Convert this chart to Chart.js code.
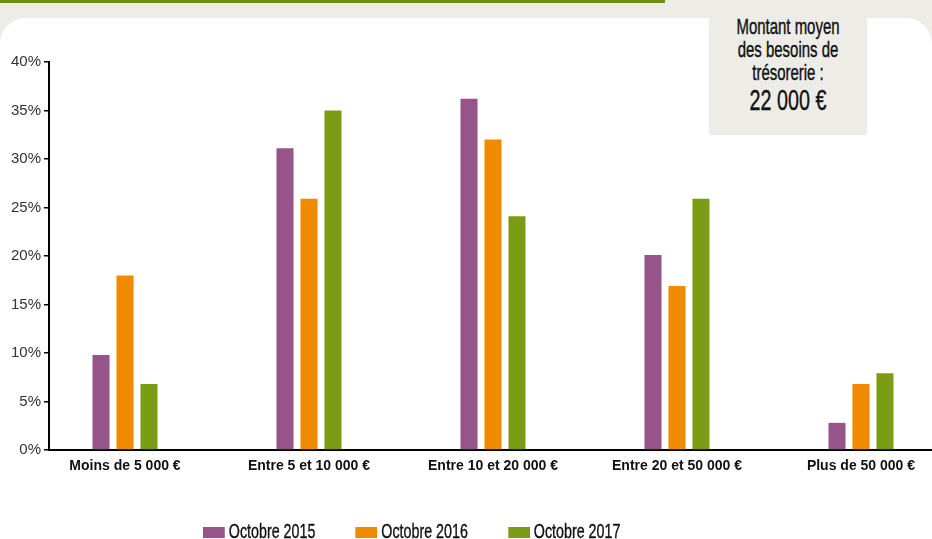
<!DOCTYPE html>
<html>
<head>
<meta charset="utf-8">
<script src="https://cdn.jsdelivr.net/npm/chart.js@4"></script>
<style>
  body { margin: 0; background: #edece7; font-family: 'Liberation Sans', Arial, sans-serif; }
  #page { position: relative; width: 932px; height: 539px; overflow: hidden; }
  #topline { position: absolute; left: 0; top: 0; width: 665px; height: 3px; background: #6f8c1f; }
  #panel { position: absolute; left: 0; right: 0; top: 18px; bottom: 0; background: #fff; border-radius: 26px 26px 0 0; }
  #note { position: absolute; left: 709px; top: 0; width: 158px; height: 135px; background: #edece7; }
  #note div { position: absolute; left: -40px; right: -40px; top: 15px; text-align: center; color: #111;
              font-size: 22px; line-height: 23px; transform: scaleX(0.68); -webkit-text-stroke: 0.4px #111; }
  #note b { display: block; font-size: 29px; font-weight: normal; line-height: 33px; }
  #chart-wrap { position: absolute; left: 0; top: 0; width: 932px; height: 539px; }
  #legend { position: absolute; left: 203px; top: 519px; display: flex; gap: 59px; font-size: 21px; line-height: 24px;
            color: #111; white-space: nowrap; transform: scaleX(0.68); transform-origin: 0 0; -webkit-text-stroke: 0.4px #111; }
  #legend span.item { display: flex; align-items: flex-end; }
  #legend i { display: inline-block; width: 32px; height: 11px; margin-right: 6px; margin-bottom: 5px; }
</style>
</head>
<body>
<div id="page">
  <div id="topline"></div>
  <div id="panel"></div>
  <div id="note"><div>Montant moyen<br>des besoins de<br>trésorerie :<b>22 000 €</b></div></div>
  <div id="chart-wrap"><canvas id="chart" width="932" height="539"></canvas></div>
  <div id="legend"></div>
</div>
<script>
// categories and series
var categories = ['Moins de 5 000 €', 'Entre 5 et 10 000 €', 'Entre 10 et 20 000 €', 'Entre 20 et 50 000 €', 'Plus de 50 000 €'];
var seriesNames = ['Octobre 2015', 'Octobre 2016', 'Octobre 2017'];
var seriesColors = ['#97548a', '#f08a00', '#7a9c14'];
var oct2015 = [9.8, 31.1, 36.2, 20.1, 2.8];
var oct2016 = [18.0, 25.9, 32.0, 16.9, 6.8];
var oct2017 = [6.8, 35.0, 24.1, 25.9, 7.9];
var yTicks = [0, 5, 10, 15, 20, 25, 30, 35, 40];

var seriesValues = [oct2015, oct2016, oct2017];
var font = "'Liberation Sans', Arial, sans-serif";

var ctx = document.getElementById('chart').getContext('2d');
var chart = new Chart(ctx, {
    type: 'bar',
    data: {
        datasets: seriesNames.map(function (name, s) {
            return {
                label: name,
                backgroundColor: seriesColors[s],
                data: seriesValues[s].map(function (v, i) { return { x: i, y: v }; }),
                categoryPercentage: 0.391,
                barPercentage: 0.71
            };
        })
    },
    options: {
        responsive: false,
        animation: false,
        layout: { padding: { top: 62, left: 0, right: 0, bottom: 0 } },
        plugins: { legend: { display: false }, tooltip: { enabled: false } },
        scales: {
            x: {
                type: 'linear',
                offset: false,
                min: -0.413,
                max: 4.386,
                grid: { display: false, drawTicks: false, tickLength: 0 },
                border: { display: true, color: '#000', width: 2 },
                ticks: {
                    stepSize: 1,
                    includeBounds: false,
                    autoSkip: false,
                    maxRotation: 0,
                    padding: 8,
                    color: '#111',
                    font: { family: font, size: 14, weight: 'bold' },
                    callback: function (v) {
                        var i = Math.round(v);
                        return Math.abs(v - i) < 1e-6 && categories[i] ? categories[i] : '';
                    }
                },
                afterFit: function (scale) { scale.height = 89; }
            },
            y: {
                min: 0,
                max: 40,
                afterBuildTicks: function (scale) {
                    scale.ticks = yTicks.map(function (v) { return { value: v }; });
                },
                grid: { drawOnChartArea: false, drawTicks: true, tickLength: 5, color: '#000', lineWidth: 1.5 },
                border: { display: true, color: '#000', width: 2 },
                ticks: {
                    padding: 3,
                    color: '#333',
                    font: { family: font, size: 15 },
                    callback: function (v) { return v + '%'; }
                },
                afterFit: function (scale) { scale.width = 49; }
            }
        }
    }
});

// legend
var legend = document.getElementById('legend');
seriesNames.forEach(function (name, s) {
    var item = document.createElement('span');
    item.className = 'item';
    var box = document.createElement('i');
    box.style.background = seriesColors[s];
    item.appendChild(box);
    item.appendChild(document.createTextNode(name));
    legend.appendChild(item);
});
</script>
</body>
</html>
